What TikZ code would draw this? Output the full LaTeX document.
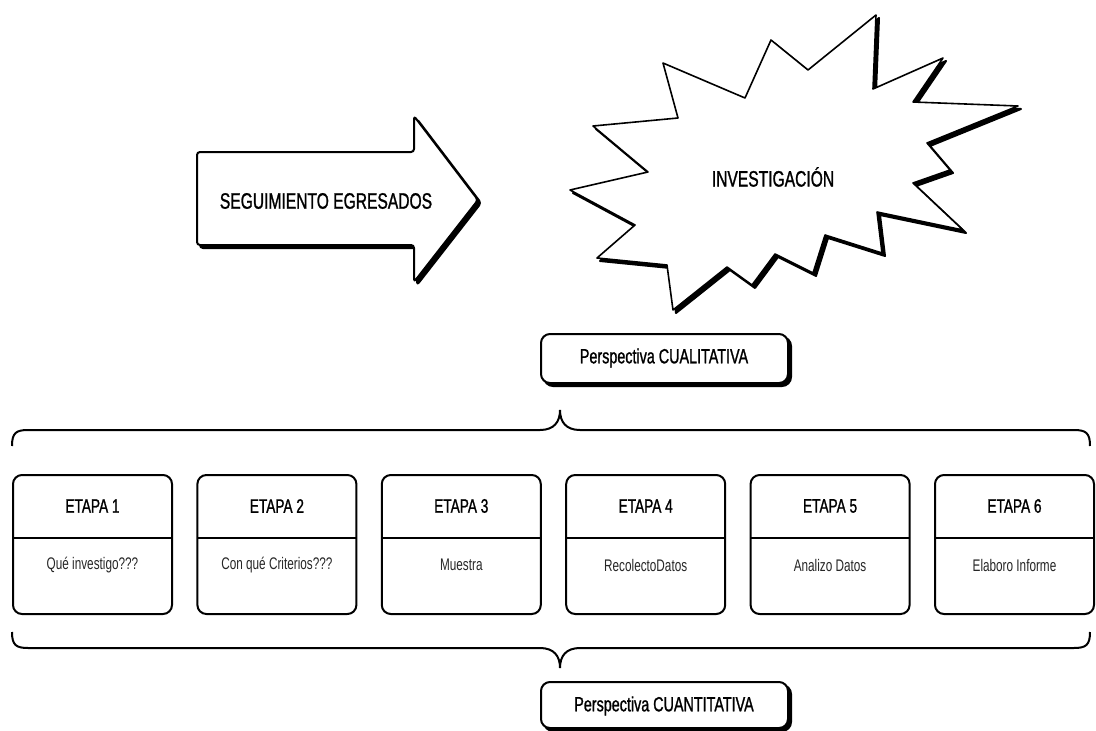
\documentclass[tikz,border=0pt]{standalone}
\usepackage{fontspec}
\setmainfont{Liberation Sans}[FakeStretch=0.7]
\newfontfamily\hdfont{Liberation Sans}[FakeStretch=0.7,FakeBold=1.1]
\begin{document}
\begin{tikzpicture}[x=1pt,y=-1pt,
  outl/.style={draw=black,line width=2pt,line join=round},
  shad/.style={fill=black,draw=black,line width=2pt,line join=round},
  etapabox/.style={outl,rounded corners=9pt},
  pbox/.style={outl,fill=white,rounded corners=9pt},
  bigtxt/.style={font=\hdfont\fontsize{22.3}{26}\selectfont},
  headtxt/.style={font=\hdfont\fontsize{19.5}{23}\selectfont},
  perstxt/.style={font=\hdfont\fontsize{20.5}{24}\selectfont},
  bodytxt/.style={font=\fontsize{16.8}{20}\selectfont,text=black!85},
  bracel/.style={draw=black,line width=2pt}]
\useasboundingbox (0,0) rectangle (1096,731);
% arrow
\begin{scope}[shift={(3,3)}]
\path[shad,rounded corners=3pt] (197,152) -- (414,152) -- (414,116) -- (478,200) -- (414,282) -- (414,245) -- (197,245) -- cycle;
\end{scope}
\path[outl,fill=white,rounded corners=3pt] (197,152) -- (414,152) -- (414,116) -- (478,200) -- (414,282) -- (414,245) -- (197,245) -- cycle;
\node[bigtxt] (seg) at (326,201) {SEGUIMIENTO EGRESADOS};
% starburst
\def\burst{(570,190) -- (648,172) -- (593,126) -- (678,118) -- (663,63) -- (745,98) -- (771,40) -- (808,70) -- (876,15) -- (873,89) -- (943,58) -- (913,102) -- (1018,106) -- (927,143) -- (950,170) -- (913,183) -- (963,230) -- (877,212) -- (882,253) -- (825,235) -- (813,273) -- (775,254) -- (752,285) -- (727,267) -- (673,310) -- (667,265) -- (597,258) -- (635,225) -- cycle}
\begin{scope}[shift={(3,3)}]
\path[shad] \burst;
\end{scope}
\path[outl,fill=white,line width=1.6pt] \burst;
\node[bigtxt] (inv) at (773,177) {INVESTIGACIÓN};
% Perspectiva CUALITATIVA
\path[shad,rounded corners=9pt] (544,337) rectangle (791,386);
\path[pbox] (541,334) rectangle (788,383);
\node[perstxt] (cual) at (664,358) {Perspectiva CUALITATIVA};
% top brace
\draw[bracel] (12,446) .. controls (12,433) and (16,430) .. (28,430) -- (540,430) .. controls (554,430) and (560,422) .. (560,410) .. controls (560,422) and (566,430) .. (580,430) -- (1074,430) .. controls (1086,430) and (1090,433) .. (1090,446);
% etapa boxes
\foreach \i/\txt [count=\k from 0] in {1/Qué investigo???,2/Con qué Criterios???,3/Muestra,4/RecolectoDatos,5/Analizo Datos,6/Elaboro Informe}{
  \pgfmathsetmacro{\xl}{13+184.4*\k}
  \pgfmathsetmacro{\xr}{\xl+159}
  \pgfmathsetmacro{\xc}{\xl+79.5}
  \path[etapabox] (\xl,475) rectangle (\xr,614);
  \draw[line width=2pt] (\xl,538) -- (\xr,538);
  \node[headtxt] (h\i) at (\xc,506) {ETAPA \i};
  \node[bodytxt] (b\i) at (\xc,565) {\txt};
}
% bottom brace
\draw[bracel] (12,632) .. controls (12,645) and (16,648) .. (28,648) -- (540,648) .. controls (554,648) and (560,656) .. (560,668) .. controls (560,656) and (566,648) .. (580,648) -- (1074,648) .. controls (1086,648) and (1090,645) .. (1090,632);
% Perspectiva CUANTITATIVA
\path[shad,rounded corners=9pt] (544,685) rectangle (791,731);
\path[pbox] (541,682) rectangle (788,728);
\node[perstxt] (cuan) at (664,706) {Perspectiva CUANTITATIVA};
\end{tikzpicture}
\end{document}
